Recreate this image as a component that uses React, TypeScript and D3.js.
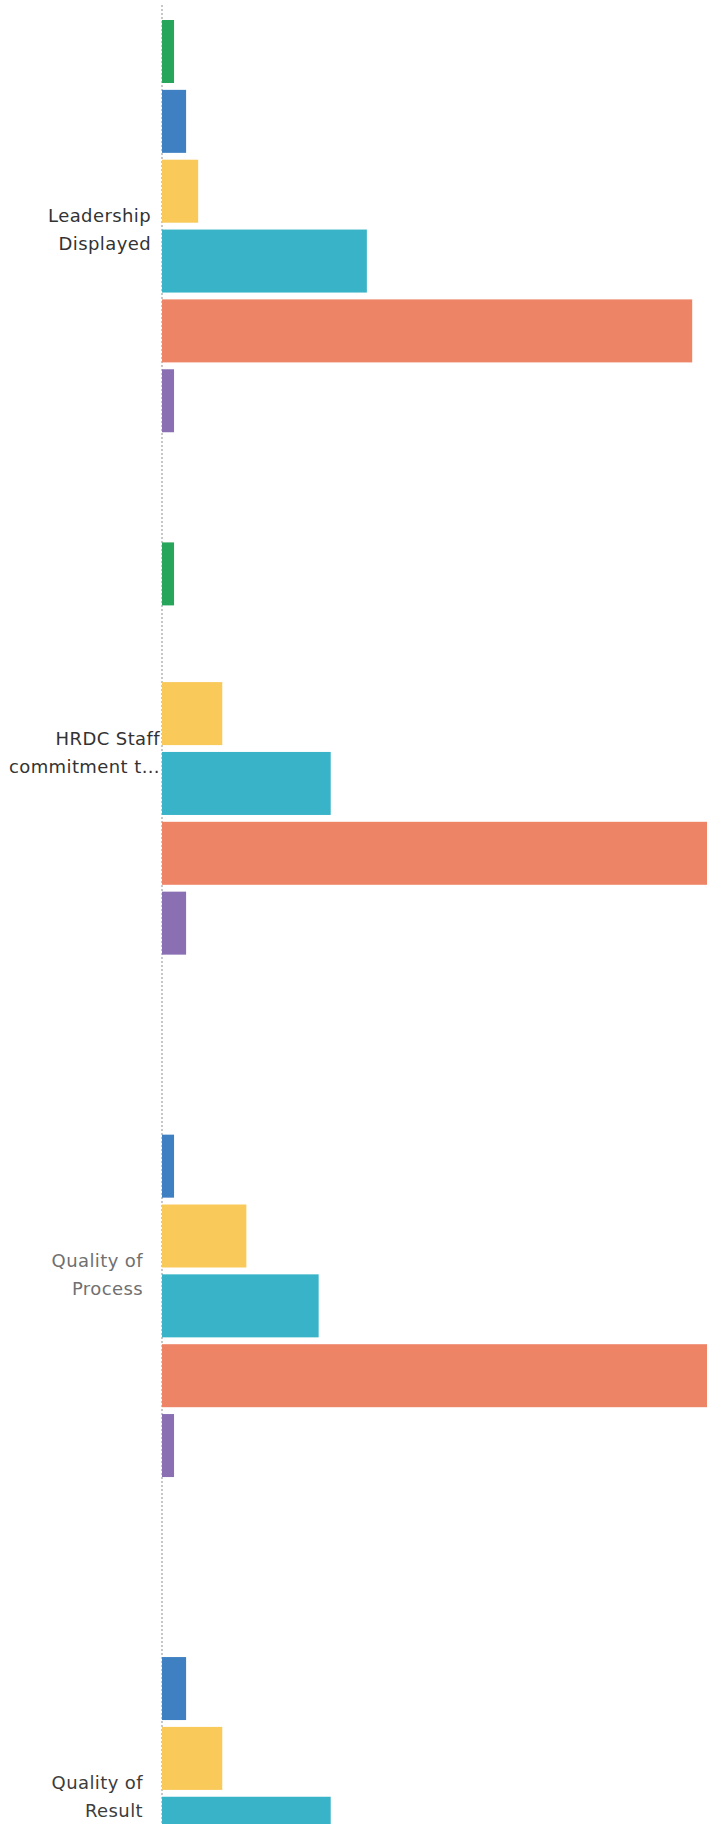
import React from "react";
import * as d3 from "d3";

// ---- data ----
const categories = [
  "Leadership Displayed",
  "HRDC Staff commitment t...",
  "Quality of Process",
  "Quality of Result",
];
const labelLines = [
  ["Leadership", "Displayed"],
  ["HRDC Staff", "commitment t..."],
  ["Quality of", "Process"],
  ["Quality of", "Result"],
];
const seriesNames = ["Very Poor", "Poor", "Fair", "Good", "Very Good", "N/A"];
// values per category, one per series (counts)
const leadershipValues = [1, 2, 3, 17, 44, 1];
const commitmentValues = [1, 0, 5, 14, 46, 2];
const processValues = [0, 1, 7, 13, 46, 1];
const resultValues = [0, 2, 5, 14, 46, 1];
const values = [leadershipValues, commitmentValues, processValues, resultValues];

// ---- styles / layout ----
const seriesColors = ["#27a55a", "#3f80c2", "#f9c95a", "#38b3c8", "#ee8466", "#8a70b3"];
const labelColors = ["#333333", "#333333", "#707070", "#3c3c3c"];
const labelRight = [151, 160, 143, 143];

const W = 707;
const H = 1824;
const AXIS_X = 162;
const UNIT = 12.05;
const GROUP_STEP = 522.4;
const Y0 = 20;
const BAR_STEP = 69.85;
const BAR_H = 63;

export default function App() {
  const x = d3.scaleLinear().domain([0, 50]).range([AXIS_X, AXIS_X + 50 * UNIT]);
  const yGroup = d3
    .scaleBand<string>()
    .domain(categories)
    .range([Y0, Y0 + categories.length * GROUP_STEP])
    .paddingInner(0)
    .paddingOuter(0);
  const innerPad = 1 - BAR_H / BAR_STEP;
  const ySeries = d3
    .scaleBand<string>()
    .domain(seriesNames)
    .range([0, (seriesNames.length - 1) * BAR_STEP + BAR_H])
    .paddingInner(innerPad)
    .paddingOuter(0);
  const groupSpan = (seriesNames.length - 1) * BAR_STEP + BAR_H;

  return (
    <svg
      width={W}
      height={H}
      style={{ position: "absolute", left: 0, top: 0, background: "#ffffff", overflow: "hidden" }}
    >
      <rect x={0} y={0} width={W} height={H} fill="#ffffff" />
      <line
        x1={AXIS_X}
        x2={AXIS_X}
        y1={5}
        y2={H}
        stroke="#8f8f8f"
        strokeWidth={1}
        strokeDasharray="2 2"
      />
      {categories.map((cat, gi) => {
        const gy = yGroup(cat) as number;
        const center = gy + groupSpan / 2;
        return (
          <g key={cat}>
            {values[gi].map((v, si) =>
              v > 0 ? (
                <rect
                  key={si}
                  x={x(0)}
                  y={gy + (ySeries(seriesNames[si]) as number)}
                  width={x(v) - x(0)}
                  height={ySeries.bandwidth()}
                  fill={seriesColors[si]}
                />
              ) : null
            )}
            <text
              textAnchor="end"
              fontFamily="DejaVu Sans, sans-serif"
              fontSize={18}
              letterSpacing={0.4}
              fill={labelColors[gi]}
            >
              {labelLines[gi].map((ln, li) => (
                <tspan key={li} x={labelRight[gi]} y={center - 4 + li * 28}>
                  {ln}
                </tspan>
              ))}
            </text>
          </g>
        );
      })}
    </svg>
  );
}
